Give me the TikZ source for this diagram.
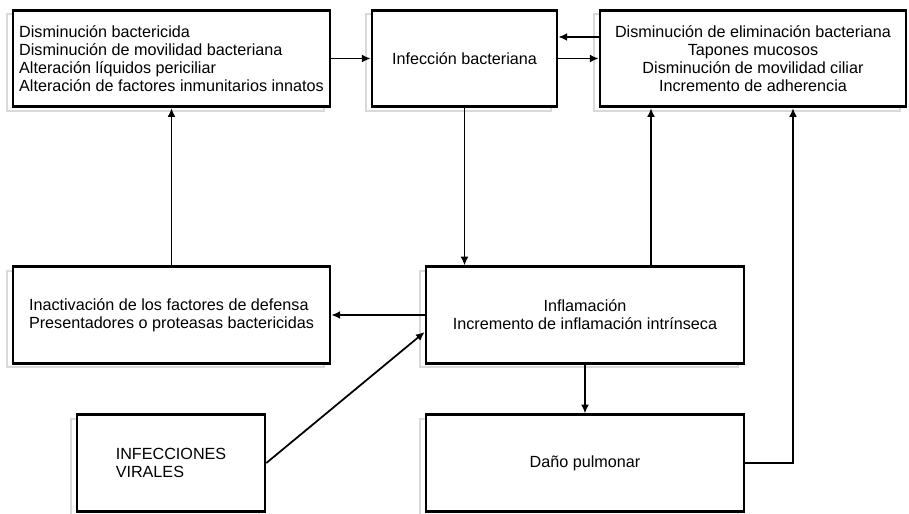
\documentclass[tikz,border=0pt]{standalone}
\usepackage{fontspec}
\setmainfont{Liberation Sans}
\usetikzlibrary{arrows.meta, positioning, shadows}

\tikzset{
    box/.style={
        draw,
        line width=1.5pt,
        fill=white,
        minimum height=1.93cm,
        inner sep=2pt,
        font=\fontsize{9.2}{10.2}\selectfont,
        general shadow={shadow xshift=-1.2mm, shadow yshift=-0.8mm,
                        draw=gray!30, line width=1pt},
    },
    link/.style={->, line width=1pt},
}

\begin{document}
\begin{tikzpicture}[
    >={Latex[length=5pt, width=4.5pt]},
    on grid,
]
    \useasboundingbox (0,0) rectangle (18.18,-10.28);

    \node[box, minimum width=6.34cm, align=left]  (bact) at (3.43,-1.17)
        {Disminución bactericida\\
         Disminución de movilidad bacteriana\\
         Alteración líquidos periciliar\\
         Alteración de factores inmunitarios innatos};
    \node[box, minimum width=3.70cm, right=5.86cm of bact]  (infec) {Infección bacteriana};
    \node[box, minimum width=6.12cm, right=5.77cm of infec, align=center] (elim)
        {Disminución de eliminación bacteriana\\
         Tapones mucosos\\
         Disminución de movilidad ciliar\\
         Incremento de adherencia};
    \node[box, minimum width=6.34cm, below=5.13cm of bact, align=left] (inact)
        {Inactivación de los factores de defensa\\
         Presentadores o proteasas bactericidas};
    \node[box, minimum width=6.36cm, right=8.27cm of inact, align=center] (infl)
        {Inflamación\\
         Incremento de inflamación intrínseca};
    \node[box, minimum width=6.36cm, below=2.96cm of infl]  (dano) {Daño pulmonar};
    \node[box, minimum width=3.76cm, left=8.28cm of dano, align=left] (viral)
        {INFECCIONES\\VIRALES};

    \draw[link] (bact) -- (infec);
    \draw[link] ([yshift=4.3mm]elim.west) -- ([yshift=4.3mm]infec.east);
    \draw[link] (infec.east) -- (elim.west);
    \draw[link] (infec.south) -- (infec.south |- infl.north);
    \draw[link] ([xshift=13.2mm]infl.north) -- ([xshift=13.2mm]infl.north |- elim.south);
    \draw[link] (dano.east) -| ([xshift=8mm]elim.south);
    \draw[link] (infl.west) -- (inact.east);
    \draw[link] (viral.east) -- ([yshift=-3.4mm]infl.west);
    \draw[link] (inact.north) -- (bact.south);
    \draw[link] (infl.south) -- (dano.north);
\end{tikzpicture}
\end{document}
